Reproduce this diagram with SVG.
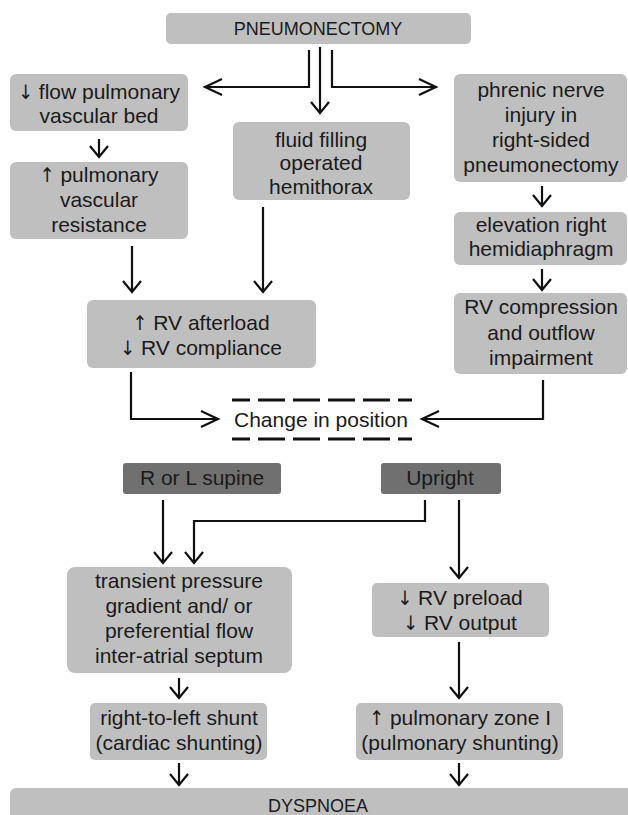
<svg xmlns="http://www.w3.org/2000/svg" width="628" height="815" viewBox="0 0 628 815">
<style>
.box{fill:#bfbfbf}
.dark{fill:#707070}
text{font-family:"Liberation Sans",Arial,sans-serif;font-size:21px;fill:#1a1a1a;text-anchor:middle}
.cap{font-size:18px}
.ar{font-family:"DejaVu Sans Condensed","DejaVu Sans",sans-serif;font-size:20px;fill:#1a1a1a}
.con path{fill:none;stroke:#111;stroke-width:2.2}
.dash{stroke:#111;stroke-width:3;stroke-dasharray:27 8;stroke-dashoffset:9}
</style>
<defs>
<marker id="av" markerUnits="userSpaceOnUse" orient="auto" markerWidth="30" markerHeight="30" refX="0" refY="0" viewBox="-15 -15 30 30" overflow="visible">
<path d="M-11,-9 L0,0 L-11,9" fill="none" stroke="#111" stroke-width="2.2"/>
</marker>
<marker id="ah" markerUnits="userSpaceOnUse" orient="auto" markerWidth="40" markerHeight="30" refX="0" refY="0" viewBox="-20 -15 40 30" overflow="visible">
<path d="M-17,-8 L0,0 L-17,8" fill="none" stroke="#111" stroke-width="2.2"/>
</marker>
</defs>
<rect width="628" height="815" fill="#fff"/>

<g class="con">
<path d="M309,50 V87 H205" marker-end="url(#ah)"/>
<path d="M320,47 V113" marker-end="url(#av)"/>
<path d="M332,50 V87 H436" marker-end="url(#ah)"/>
<path d="M99,139 V157" marker-end="url(#av)"/>
<path d="M542,186 V206" marker-end="url(#av)"/>
<path d="M132,246 V292" marker-end="url(#av)"/>
<path d="M263,207 V292" marker-end="url(#av)"/>
<path d="M542,269 V290" marker-end="url(#av)"/>
<path d="M131,372 V419 H218" marker-end="url(#ah)"/>
<path d="M543,380 V419 H422" marker-end="url(#ah)"/>
<path d="M163,500 V563" marker-end="url(#av)"/>
<path d="M425,500 V521 H194 V563" marker-end="url(#av)"/>
<path d="M459,500 V578" marker-end="url(#av)"/>
<path d="M459,642 V698" marker-end="url(#av)"/>
<path d="M179,678 V698" marker-end="url(#av)"/>
<path d="M179,763 V785" marker-end="url(#av)"/>
<path d="M459,763 V785" marker-end="url(#av)"/>
</g>

<g id="pneumonectomy"><rect class="box" x="166" y="13" width="305" height="31" rx="5"/><text class="cap" x="318" y="35">PNEUMONECTOMY</text></g>
<g id="flow"><rect class="box" x="10" y="74" width="178" height="57" rx="6"/><text x="99" y="99"><tspan class="ar">↓</tspan> flow pulmonary</text><text x="99" y="123">vascular bed</text></g>
<g id="resistance"><rect class="box" x="10" y="162" width="178" height="77" rx="6"/><text x="99" y="182"><tspan class="ar">↑</tspan> pulmonary</text><text x="99" y="207">vascular</text><text x="99" y="232">resistance</text></g>
<g id="fluid"><rect class="box" x="233" y="122" width="177" height="78" rx="6"/><text x="321" y="147">fluid filling</text><text x="321" y="170">operated</text><text x="321" y="194">hemithorax</text></g>
<g id="phrenic"><rect class="box" x="454" y="74" width="173" height="108" rx="6"/><text x="541" y="97">phrenic nerve</text><text x="541" y="122">injury in</text><text x="541" y="147">right-sided</text><text x="541" y="172">pneumonectomy</text></g>
<g id="elevation"><rect class="box" x="454" y="212" width="173" height="53" rx="6"/><text x="541" y="232">elevation right</text><text x="541" y="256">hemidiaphragm</text></g>
<g id="rvcompression"><rect class="box" x="454" y="293" width="173" height="81" rx="6"/><text x="541" y="314">RV compression</text><text x="541" y="340">and outflow</text><text x="541" y="365">impairment</text></g>
<g id="afterload"><rect class="box" x="87" y="300" width="229" height="68" rx="6"/><text x="201" y="330"><tspan class="ar">↑</tspan> RV afterload</text><text x="201" y="355"><tspan class="ar">↓</tspan> RV compliance</text></g>
<g id="change"><line class="dash" x1="232" y1="400" x2="412" y2="400"/><line class="dash" x1="232" y1="439" x2="412" y2="439"/><text x="321" y="427">Change in position</text></g>
<g id="supine"><rect class="dark" x="123" y="463" width="158" height="31" rx="3"/><text x="202" y="485">R or L supine</text></g>
<g id="upright"><rect class="dark" x="381" y="463" width="120" height="31" rx="3"/><text x="440" y="485">Upright</text></g>
<g id="transient"><rect class="box" x="67" y="567" width="225" height="106" rx="8"/><text x="179" y="588">transient pressure</text><text x="179" y="613">gradient and/ or</text><text x="179" y="638">preferential flow</text><text x="179" y="663">inter-atrial septum</text></g>
<g id="preload"><rect class="box" x="372" y="583" width="177" height="54" rx="5"/><text x="460" y="605"><tspan class="ar">↓</tspan> RV preload</text><text x="460" y="630"><tspan class="ar">↓</tspan> RV output</text></g>
<g id="rtlshunt"><rect class="box" x="90" y="703" width="177" height="57" rx="5"/><text x="179" y="725">right-to-left shunt</text><text x="179" y="750">(cardiac shunting)</text></g>
<g id="zone"><rect class="box" x="356" y="703" width="207" height="57" rx="5"/><text x="460" y="725"><tspan class="ar">↑</tspan> pulmonary zone I</text><text x="460" y="750">(pulmonary shunting)</text></g>
<g id="dyspnoea"><rect class="box" x="10" y="788" width="630" height="40" rx="6"/><text class="cap" x="318" y="812">DYSPNOEA</text></g>
</svg>
